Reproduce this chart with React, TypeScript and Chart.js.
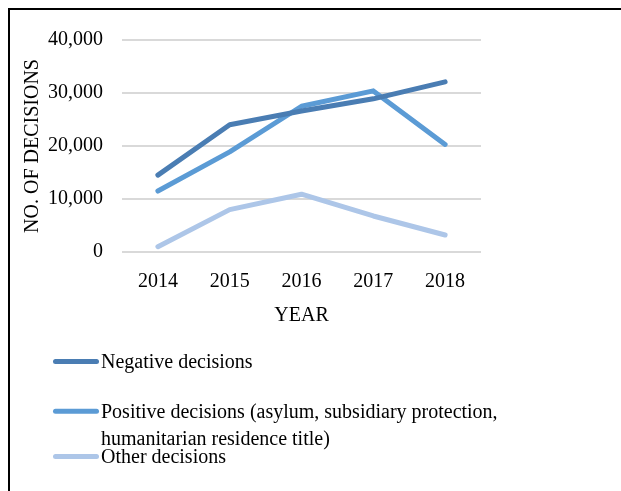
import React, { useEffect, useRef } from "react";
import { Chart, registerables } from "chart.js";

Chart.register(...registerables);

const years = ["2014", "2015", "2016", "2017", "2018"];
const negativeDecisions = [14500, 24000, 26600, 28900, 32100];
const positiveDecisions = [11500, 18900, 27500, 30400, 20300];
const otherDecisions = [1000, 8000, 10900, 6800, 3200];
const yTickValues = [0, 10000, 20000, 30000, 40000];
const seriesLabels = [
  "Negative decisions",
  "Positive decisions (asylum, subsidiary protection, humanitarian residence title)",
  "Other decisions",
];
const seriesColors = ["#4a7db3", "#5b9bd5", "#adc6e8"];
const xTitle = "YEAR";
const yTitle = "NO. OF DECISIONS";

const FONT_FAMILY = "'Liberation Serif', 'Times New Roman', serif";

const wordLegend = {
  id: "wordLegend",
  afterDraw(chart: any, _args: any, opts: any) {
    const ctx = chart.ctx as CanvasRenderingContext2D;
    ctx.save();
    ctx.font = `20px ${FONT_FAMILY}`;
    ctx.fillStyle = "#000";
    ctx.textBaseline = "alphabetic";
    ctx.textAlign = "left";
    chart.data.datasets.forEach((ds: any, i: number) => {
      const base = opts.baselines[i];
      const words = String(ds.label).split(" ");
      const lines: string[] = [];
      let cur = "";
      for (const w of words) {
        const t = cur ? cur + " " + w : w;
        if (cur && ctx.measureText(t).width > opts.maxWidth) {
          lines.push(cur);
          cur = w;
        } else cur = t;
      }
      if (cur) lines.push(cur);
      ctx.strokeStyle = ds.borderColor;
      ctx.lineWidth = 5;
      ctx.lineCap = "round";
      ctx.beginPath();
      ctx.moveTo(opts.lineX0, base - opts.lineRise);
      ctx.lineTo(opts.lineX1, base - opts.lineRise);
      ctx.stroke();
      lines.forEach((l, j) => ctx.fillText(l, opts.textX, base + j * opts.lineHeight));
    });
    ctx.restore();
  },
};

export default function App() {
  const canvasRef = useRef<HTMLCanvasElement | null>(null);

  useEffect(() => {
    if (!canvasRef.current) return;
    const font = { family: FONT_FAMILY, size: 20 };
    const series = [negativeDecisions, positiveDecisions, otherDecisions];
    const chart = new Chart(canvasRef.current, {
      type: "line",
      data: {
        labels: years,
        datasets: series.map((d, i) => ({
          label: seriesLabels[i],
          data: d,
          borderColor: seriesColors[i],
          backgroundColor: seriesColors[i],
          borderWidth: 5,
          borderCapStyle: "round",
          borderJoinStyle: "round",
          pointRadius: 0,
          tension: 0,
          fill: false,
        })),
      },
      options: {
        responsive: false,
        animation: false,
        devicePixelRatio: 1,
        layout: { padding: { left: 20, top: 40, right: 140, bottom: 163 } },
        plugins: {
          legend: { display: false },
          tooltip: { enabled: false },
          wordLegend: {
            baselines: [368, 417.7, 463],
            lineHeight: 27,
            maxWidth: 415,
            textX: 101,
            lineX0: 55.5,
            lineX1: 96.5,
            lineRise: 6.5,
          },
        } as any,
        scales: {
          x: {
            offset: true,
            grid: { display: false, drawTicks: false },
            border: { display: false },
            ticks: { padding: 17.5, color: "#000", font },
            title: { display: true, text: xTitle, color: "#000", font, padding: 0 },
            afterFit: (s: any) => {
              s.height = 76;
            },
          },
          y: {
            min: 0,
            max: 40000,
            grid: { color: "#d9d9d9", lineWidth: 2, drawTicks: false },
            border: { display: false },
            afterBuildTicks: (s: any) => {
              s.ticks = yTickValues.map((v) => ({ value: v }));
            },
            ticks: {
              padding: 19,
              color: "#000",
              font,
              callback: (v: any) => Number(v).toLocaleString("en-US"),
            },
            title: { display: true, text: yTitle, color: "#000", font, padding: { top: 1, bottom: 0 } },
            afterFit: (s: any) => {
              s.width = 102;
            },
          },
        },
      },
      plugins: [wordLegend],
    } as any);
    return () => chart.destroy();
  }, []);

  return (
    <div
      style={{
        position: "absolute",
        left: 0,
        top: 0,
        width: 621,
        height: 491,
        overflow: "hidden",
        background: "#fff",
      }}
    >
      <div
        style={{
          position: "absolute",
          left: 8,
          top: 8,
          width: 800,
          height: 700,
          borderLeft: "2px solid #000",
          borderTop: "2px solid #000",
        }}
      />
      <canvas
        ref={canvasRef}
        width={621}
        height={491}
        style={{ position: "absolute", left: 0, top: 0, width: 621, height: 491 }}
      />
    </div>
  );
}
